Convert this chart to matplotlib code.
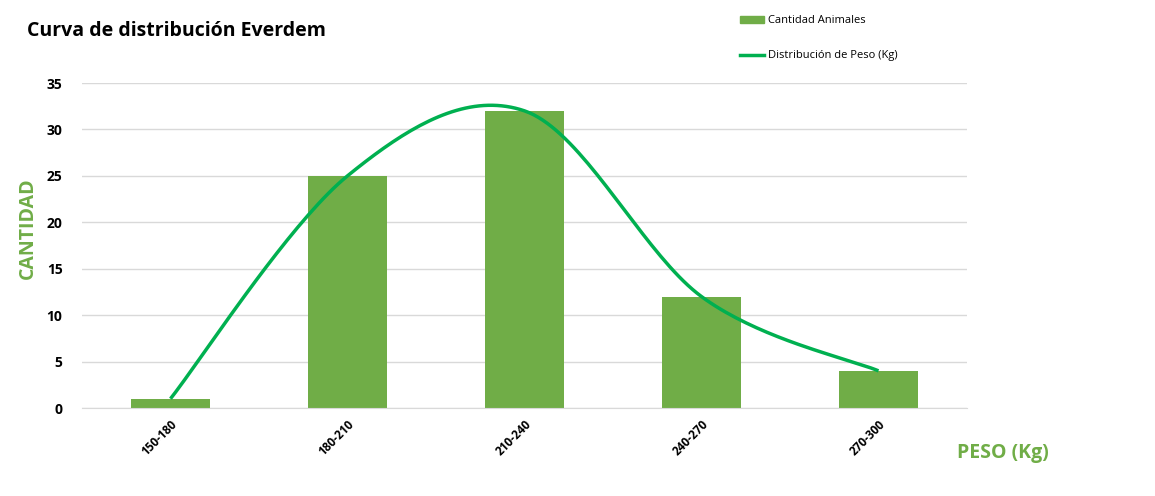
import numpy as np
import matplotlib
matplotlib.use("Agg")
import matplotlib.pyplot as plt
from matplotlib.lines import Line2D
from matplotlib.patches import Patch

categories = ["150-180", "180-210", "210-240", "240-270", "270-300"]
cantidad = [1, 25, 32, 12, 4]
distribucion = [1, 25, 32, 12, 4]

BAR = "#70AD47"
LINE = "#00B050"

plt.rcParams['font.family'] = ['Open Sans', 'DejaVu Sans']

W, H = 1155, 496
fig = plt.figure(figsize=(W/100, H/100), dpi=100)
ax = fig.add_axes([82/W, 1-408/H, (967-82)/W, (408-83)/H])

x = np.arange(len(categories))
ax.bar(x, cantidad, width=0.45, color=BAR, zorder=2)

# Excel-style smoothed line (Catmull-Rom through data points)
def catmull(xs, ys, n=40):
    px = list(xs); py = list(ys)
    P = [(px[0], py[0])] + list(zip(px, py)) + [(px[-1], py[-1])]
    outx, outy = [], []
    for i in range(1, len(P) - 2):
        p0, p1, p2, p3 = P[i-1], P[i], P[i+1], P[i+2]
        t = np.linspace(0, 1, n)
        c1 = (p1[0] + (p2[0]-p0[0])/6, p1[1] + (p2[1]-p0[1])/6)
        c2 = (p2[0] - (p3[0]-p1[0])/6, p2[1] - (p3[1]-p1[1])/6)
        bx = (1-t)**3*p1[0] + 3*(1-t)**2*t*c1[0] + 3*(1-t)*t**2*c2[0] + t**3*p2[0]
        by = (1-t)**3*p1[1] + 3*(1-t)**2*t*c1[1] + 3*(1-t)*t**2*c2[1] + t**3*p2[1]
        outx.extend(bx); outy.extend(by)
    return outx, outy

sx, sy = catmull(x, distribucion)
ax.plot(sx, sy, color=LINE, lw=2.5, zorder=3, solid_capstyle='butt')

ax.set_xlim(-0.5, len(categories) - 0.5)
ax.set_ylim(0, 35)
ax.set_yticks(range(0, 36, 5))
ax.yaxis.grid(True, color="#D9D9D9", lw=1)
ax.set_axisbelow(True)
for s in ["top", "right", "left"]:
    ax.spines[s].set_visible(False)
ax.spines["bottom"].set_color("#D9D9D9")
ax.tick_params(axis='both', length=0)
ax.tick_params(axis='y', pad=14)
ax.tick_params(axis='x', pad=7)
ax.set_xticks(x)
ax.set_xticklabels(categories, rotation=45, ha='right', rotation_mode='anchor',
                   fontsize=8.5, fontweight='bold')
for lab in ax.get_yticklabels():
    lab.set_fontweight('bold')
    lab.set_fontsize(10)

fig.text(27/W, 1-31/H, "Curva de distribución Everdem", fontsize=14,
         fontweight='bold', va='center', ha='left')
fig.text(28/W, 1-228/H, "CANTIDAD", fontsize=14, fontweight='bold', color=BAR,
         rotation=90, va='center', ha='center')
fig.text(1003/W, 1-453/H, "PESO (Kg)", fontsize=14, fontweight='bold', color=BAR,
         va='center', ha='center')

handles = [Patch(color=BAR), Line2D([], [], color=LINE, lw=2.5)]
leg = fig.legend(handles, ["Cantidad Animales", "Distribución de Peso (Kg)"],
                 loc='upper left', bbox_to_anchor=(730/W, 1-5/H), frameon=False,
                 fontsize=8, labelspacing=2.2, handlelength=2.2, handleheight=0.6,
                 handletextpad=0.3)

fig.savefig("out.png", dpi=100)
